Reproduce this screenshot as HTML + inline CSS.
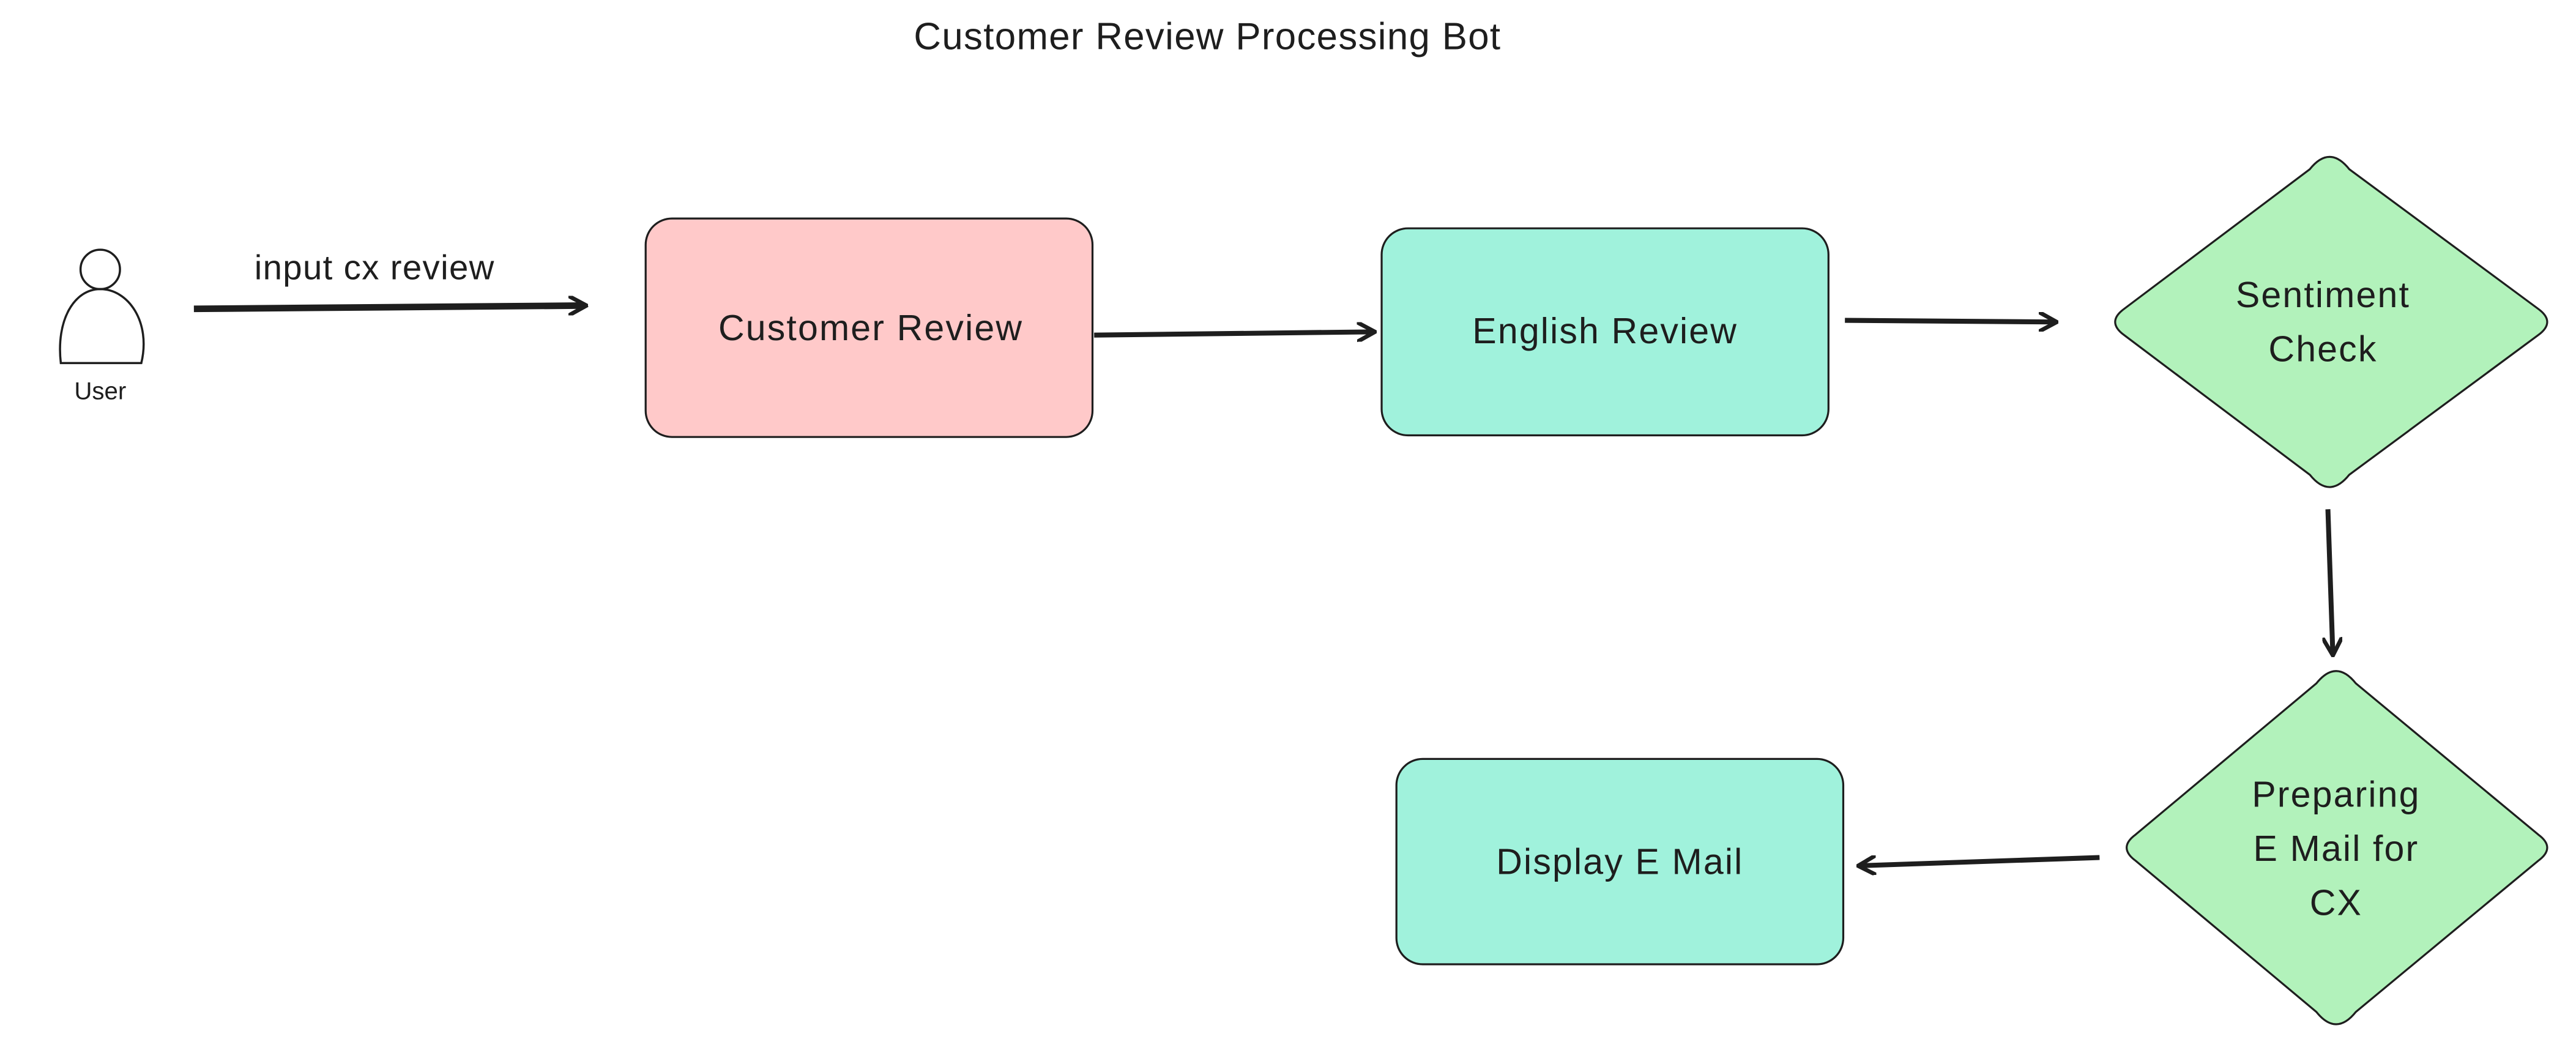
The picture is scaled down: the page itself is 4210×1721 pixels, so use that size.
<!DOCTYPE html>
<html><head><meta charset="utf-8"><style>
html,body{margin:0;padding:0;background:#fff;width:4210px;height:1721px;overflow:hidden}
svg{display:block}
text{font-family:"Liberation Sans",sans-serif;fill:#1e1e1e}
</style></head><body>
<svg width="4210" height="1721" viewBox="0 0 1568 641" xmlns="http://www.w3.org/2000/svg">
<defs><marker id="a" markerWidth="12" markerHeight="12" refX="10" refY="6" orient="auto" markerUnits="userSpaceOnUse"><path d="M0,0 L11,6 L0,12" fill="none" stroke="#1e1e1e" stroke-width="2.5" stroke-linecap="round"/></marker></defs>
<text x="735" y="30" font-size="23" text-anchor="middle" letter-spacing="0.5">Customer Review Processing Bot</text>
<circle cx="61" cy="164" r="12" fill="none" stroke="#1e1e1e" stroke-width="1.3"/>
<path d="M37,221 C34,195 45,176 61,176 C78,176 92,196 86,221 Z" fill="none" stroke="#1e1e1e" stroke-width="1.3"/>
<text x="61" y="243" font-size="15" text-anchor="middle">User</text>
<line x1="118" y1="188" x2="356" y2="186" stroke="#1e1e1e" stroke-width="4" marker-end="url(#a)"/>
<text x="228" y="170" font-size="21" text-anchor="middle" letter-spacing="0.5">input cx review</text>
<rect x="393" y="133" width="272" height="133" rx="16" fill="#ffc9c9" stroke="#1e1e1e" stroke-width="1.2"/>
<text x="530" y="207" font-size="22" text-anchor="middle" letter-spacing="0.8">Customer Review</text>
<line x1="666" y1="204" x2="836" y2="202" stroke="#1e1e1e" stroke-width="3" marker-end="url(#a)"/>
<rect x="841" y="139" width="272" height="126" rx="16" fill="#a0f2dc" stroke="#1e1e1e" stroke-width="1.2"/>
<text x="977" y="209" font-size="22" text-anchor="middle" letter-spacing="0.8">English Review</text>
<line x1="1123" y1="195" x2="1251" y2="196" stroke="#1e1e1e" stroke-width="3" marker-end="url(#a)"/>
<path d="M1406,103 Q1418,88 1430,103 L1545,188 Q1556,196 1545,204 L1430,289 Q1418,304 1406,289 L1293,204 Q1282,196 1293,188 Z" fill="#b2f2bb" stroke="#1e1e1e" stroke-width="1.2"/>
<text x="1414" y="187" font-size="22" text-anchor="middle" letter-spacing="0.8">Sentiment</text>
<text x="1414" y="220" font-size="22" text-anchor="middle" letter-spacing="0.8">Check</text>
<line x1="1417" y1="310" x2="1420" y2="398" stroke="#1e1e1e" stroke-width="3" marker-end="url(#a)"/>
<path d="M1410,416 Q1422,401 1434,416 L1545,508 Q1556,516 1545,524 L1434,616 Q1422,631 1410,616 L1300,524 Q1289,516 1300,508 Z" fill="#b2f2bb" stroke="#1e1e1e" stroke-width="1.2"/>
<text x="1422" y="491" font-size="22" text-anchor="middle" letter-spacing="0.8">Preparing</text>
<text x="1422" y="524" font-size="22" text-anchor="middle" letter-spacing="0.8">E Mail for</text>
<text x="1422" y="557" font-size="22" text-anchor="middle" letter-spacing="0.8">CX</text>
<line x1="1278" y1="522" x2="1132" y2="527" stroke="#1e1e1e" stroke-width="3" marker-end="url(#a)"/>
<rect x="850" y="462" width="272" height="125" rx="16" fill="#a0f2dc" stroke="#1e1e1e" stroke-width="1.2"/>
<text x="986" y="532" font-size="22" text-anchor="middle" letter-spacing="0.8">Display E Mail</text>
</svg>
</body></html>
